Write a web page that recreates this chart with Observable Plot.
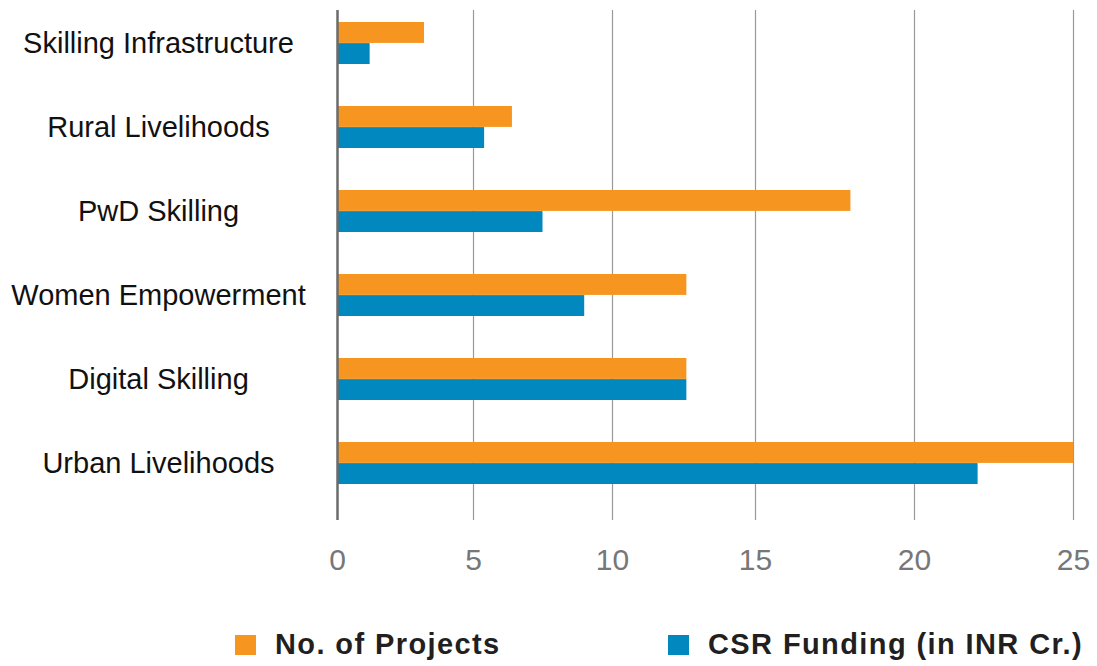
<!DOCTYPE html>
<html>
<head>
<meta charset="utf-8">
<script src="https://cdn.jsdelivr.net/npm/d3@7"></script>
<script src="https://cdn.jsdelivr.net/npm/@observablehq/plot@0.6"></script>
<style>
  html, body { margin: 0; padding: 0; background: #fff; }
  #wrap { position: relative; width: 1097px; height: 666px; font-family: "Liberation Sans", Arial, Helvetica, sans-serif; }
  .leg { position: absolute; top: 628px; display: flex; align-items: center; font-weight: bold; font-size: 29px; letter-spacing: 1.4px; color: #231f20; }
  .sw { width: 21px; height: 20px; margin-right: 19px; }
</style>
</head>
<body>
<div id="wrap"></div>
<script>
const categories = ["Skilling Infrastructure", "Rural Livelihoods", "PwD Skilling", "Women Empowerment", "Digital Skilling", "Urban Livelihoods"];
const projects = [3.2, 6.4, 18, 12.6, 12.6, 25];
const funding = [1.2, 5.4, 7.5, 9.0, 12.6, 22];
const xTicks = [0, 5, 10, 15, 20, 25];
const seriesNames = ["No. of Projects", "CSR Funding (in INR Cr.)"];
const colors = ["#F6951F", "#0088BF"];

const rows = categories.map((c, i) => ({category: c, projects: projects[i], funding: funding[i]}));

const chart = Plot.plot({
  width: 1097,
  height: 610,
  marginTop: 10,
  marginBottom: 90,
  marginLeft: 337,
  marginRight: 24,
  style: {fontFamily: '"Liberation Sans", Arial, Helvetica, sans-serif', background: "transparent"},
  x: {type: "linear", domain: xTicks, range: [337, 473, 612, 755, 914, 1073], ticks: xTicks},
  y: {domain: categories, paddingInner: 0.5, paddingOuter: 0.27, align: 0.26},
  marks: [
    Plot.gridX(xTicks.slice(1), {stroke: "#999", strokeOpacity: 1, strokeWidth: 1.2}),
    Plot.barX(rows, {y: "category", x: "projects", fill: colors[0], insetBottom: 21.1}),
    Plot.barX(rows, {y: "category", x: "funding", fill: colors[1], insetTop: 21.1}),
    Plot.ruleX([0], {stroke: "#6b6b6b", strokeWidth: 2.5}),
    Plot.axisX(xTicks, {tickSize: 0, tickPadding: 28, fontSize: 30, color: "#777", label: null}),
    Plot.axisY({tickSize: 0, tickPadding: 179, textAnchor: "middle", fontSize: 29, color: "#111", label: null})
  ]
});

const wrap = document.getElementById("wrap");
wrap.appendChild(chart);

const legPos = [{left: 235}, {left: 668}];
seriesNames.forEach((name, i) => {
  const d = document.createElement("div");
  d.className = "leg";
  d.style.left = legPos[i].left + "px";
  const s = document.createElement("div");
  s.className = "sw";
  s.style.background = colors[i];
  const t = document.createElement("span");
  t.textContent = name;
  d.appendChild(s);
  d.appendChild(t);
  wrap.appendChild(d);
});
</script>
</body>
</html>
